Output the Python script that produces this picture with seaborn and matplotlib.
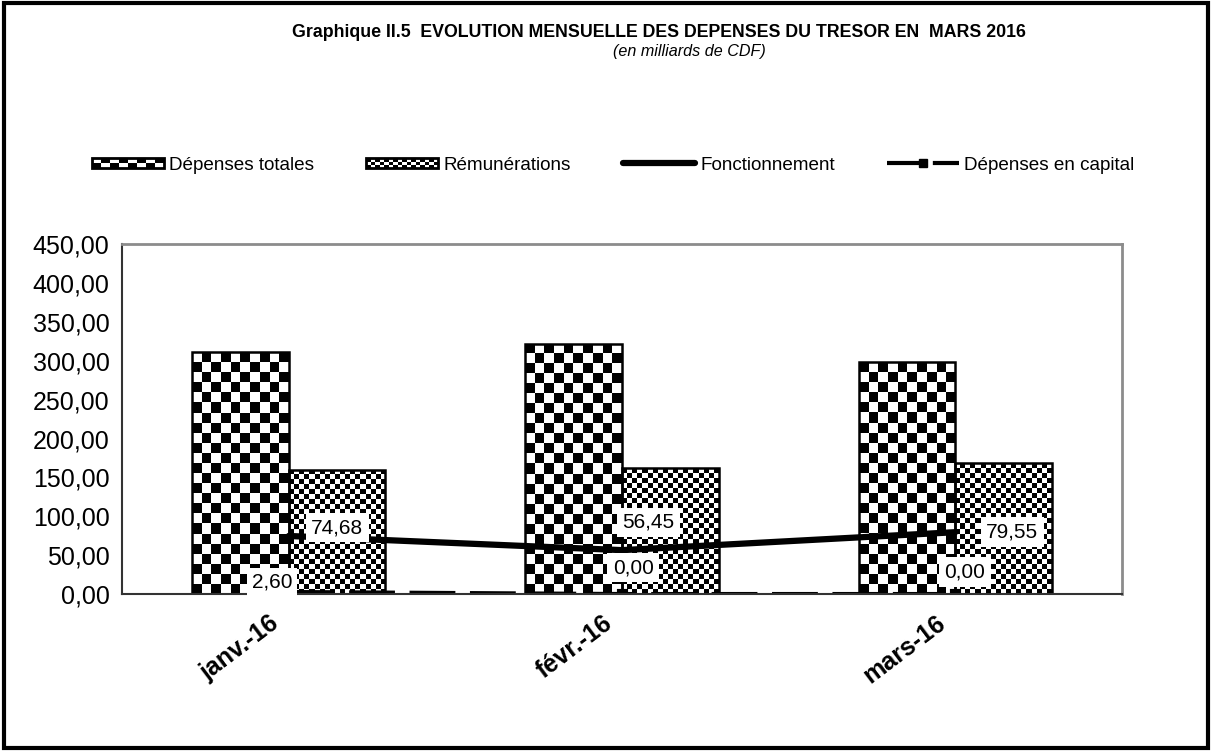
import numpy as np
import pandas as pd
import matplotlib
matplotlib.use('Agg')
import matplotlib.pyplot as plt
import matplotlib.transforms as mtransforms
import seaborn as sns
from matplotlib.patches import Rectangle
from matplotlib.lines import Line2D
from matplotlib.legend_handler import HandlerBase

sns.set_style('white')
plt.rcParams['font.family'] = ['Liberation Sans', 'DejaVu Sans']
plt.rcParams['text.color'] = 'black'
plt.rcParams['xtick.color'] = 'black'
plt.rcParams['ytick.color'] = 'black'

mois = ['janv.-16', 'févr.-16', 'mars-16']
depenses_totales = [311.0, 322.0, 298.0]
remunerations = [160.0, 161.6, 168.0]
fonctionnement = [74.68, 56.45, 79.55]
capital = [2.60, 0.00, 0.00]
yticks = [0, 50, 100, 150, 200, 250, 300, 350, 400, 450]

# label offsets in points (Excel placed them by hand)
off_fonct = [(35, 6), (19, 20), (41, 0)]
off_cap = [(-12, 7), (8, 19), (7, 16)]

bars = pd.DataFrame({
    'mois': mois * 2,
    'valeur': depenses_totales + remunerations,
    'serie': ['Dépenses totales'] * 3 + ['Rémunérations'] * 3,
})
lines = pd.DataFrame({'mois': mois, 'fonct': fonctionnement, 'capital': capital})

fig = plt.figure(figsize=(12.12, 7.51), dpi=100)
ax = fig.add_axes([0.1007, 0.209, 0.825, 0.466])

sns.barplot(data=bars, x='mois', y='valeur', hue='serie', palette=['white', 'white'],
            width=0.58, edgecolor='black', linewidth=1.8, legend=False, ax=ax,
            errorbar=None)
sns.pointplot(data=lines, x='mois', y='fonct', color='black', marker='', linewidth=4.5,
              errorbar=None, ax=ax)
sns.pointplot(data=lines, x='mois', y='capital', color='black', marker='s', markersize=6,
              linewidth=3, linestyle=(0, (11, 3.5)), errorbar=None, ax=ax)

ax.set_xlim(-0.5, 2.5)
ax.set_ylim(0, 450)


def checker(ax, patch, cell_px):
    x0, y0 = patch.get_x(), patch.get_y()
    w, h = patch.get_width(), patch.get_height()
    p0 = ax.transData.transform((x0, y0))
    p1 = ax.transData.transform((x0 + w, y0 + h))
    nx = max(1, int(round((p1[0] - p0[0]) / cell_px)))
    ny = max(1, int(round((p1[1] - p0[1]) / cell_px)))
    grid = np.add.outer(np.arange(ny), np.arange(nx)) % 2
    im = ax.imshow(grid, cmap='gray', vmin=0, vmax=1, extent=(x0, x0 + w, y0, y0 + h),
                   origin='lower', interpolation='nearest', aspect='auto', zorder=1.5)
    im.set_clip_path(patch)
    patch.set_facecolor('none')
    patch.set_zorder(1.6)


bar_patches = [p for p in ax.patches if isinstance(p, Rectangle)]
for i, p in enumerate(bar_patches):
    checker(ax, p, 10 if i < 3 else 5)

ax.set_xlim(-0.5, 2.5)
ax.set_ylim(0, 450)

for i, v in enumerate(fonctionnement):
    ax.annotate(f'{v:.2f}'.replace('.', ','), (i, v), xytext=off_fonct[i],
                textcoords='offset points', ha='center', va='center', fontsize=15,
                bbox=dict(boxstyle='square,pad=0.25', fc='white', ec='none'), zorder=5)
for i, v in enumerate(capital):
    ax.annotate(f'{v:.2f}'.replace('.', ','), (i, v), xytext=off_cap[i],
                textcoords='offset points', ha='center', va='center', fontsize=15,
                bbox=dict(boxstyle='square,pad=0.25', fc='white', ec='none'), zorder=5)

ax.set_yticks(yticks)
ax.set_yticklabels([f'{t:.2f}'.replace('.', ',') for t in yticks], fontsize=18)
ax.tick_params(axis='y', direction='inout', length=10, width=1.2, color='black', pad=4)
ax.set_xticks(range(len(mois)))
ax.set_xticklabels(mois, rotation=37, ha='right', rotation_mode='anchor',
                   fontsize=18, fontweight='bold')
ax.tick_params(axis='x', length=0, pad=12)
shift = mtransforms.ScaledTranslation(-0.2, 0, fig.dpi_scale_trans)
for lab in ax.get_xticklabels():
    lab.set_transform(lab.get_transform() + shift)
ax.set_xticks([-0.5, 0.5, 1.5, 2.5], minor=True)
ax.tick_params(axis='x', which='minor', direction='out', length=8, width=1.2, color='black')
ax.set_xlabel('')
ax.set_ylabel('')

for s in ['left', 'bottom']:
    ax.spines[s].set_color('#333333')
    ax.spines[s].set_linewidth(1.5)
for s in ['top', 'right']:
    ax.spines[s].set_color('#8c8c8c')
    ax.spines[s].set_linewidth(2)


class CheckerHandler(HandlerBase):
    def __init__(self, ncols, nrows):
        super().__init__()
        self.ncols = ncols
        self.nrows = nrows

    def create_artists(self, legend, orig_handle, xdescent, ydescent, width, height,
                       fontsize, trans):
        h = height * 0.75
        y0 = -ydescent + (height - h) / 2
        x0 = -xdescent
        cw = width / self.ncols
        ch = h / self.nrows
        arts = [Rectangle((x0, y0), width, h, fc='white', ec='none', transform=trans)]
        for i in range(self.ncols):
            for j in range(self.nrows):
                if (i + j) % 2 == 0:
                    arts.append(Rectangle((x0 + i * cw, y0 + j * ch), cw, ch, fc='black',
                                          ec='none', transform=trans))
        arts.append(Rectangle((x0, y0), width, h, fc='none', ec='black', lw=2,
                              transform=trans))
        return arts


h_tot = Rectangle((0, 0), 1, 1)
h_rem = Rectangle((0, 0), 1, 1, label='r')
h_fon = Line2D([], [], color='black', lw=4.5)
h_cap = Line2D([], [], color='black', lw=3, ls=(0, (8, 3)), marker='s', markersize=6)
fig.legend([h_tot, h_rem, h_fon, h_cap],
           ['Dépenses totales', 'Rémunérations', 'Fonctionnement', 'Dépenses en capital'],
           handler_map={h_tot: CheckerHandler(8, 2), h_rem: CheckerHandler(16, 3)},
           loc='center', bbox_to_anchor=(0.506, 0.78), ncol=4, frameon=False,
           fontsize=13.6, handlelength=3.8, handletextpad=0.3, columnspacing=2.75)

fig.text(0.544, 0.957, 'Graphique II.5  EVOLUTION MENSUELLE DES DEPENSES DU TRESOR EN  MARS 2016',
         ha='center', va='center', fontsize=12.8, fontweight='bold')
fig.text(0.569, 0.931, '(en milliards de CDF)', ha='center', va='center', fontsize=11.6,
         style='italic')

fig.patches.append(Rectangle((0.003, 0.004), 0.994, 0.992, transform=fig.transFigure,
                             fill=False, ec='black', lw=3, zorder=10))

fig.savefig('out.png', dpi=100)
